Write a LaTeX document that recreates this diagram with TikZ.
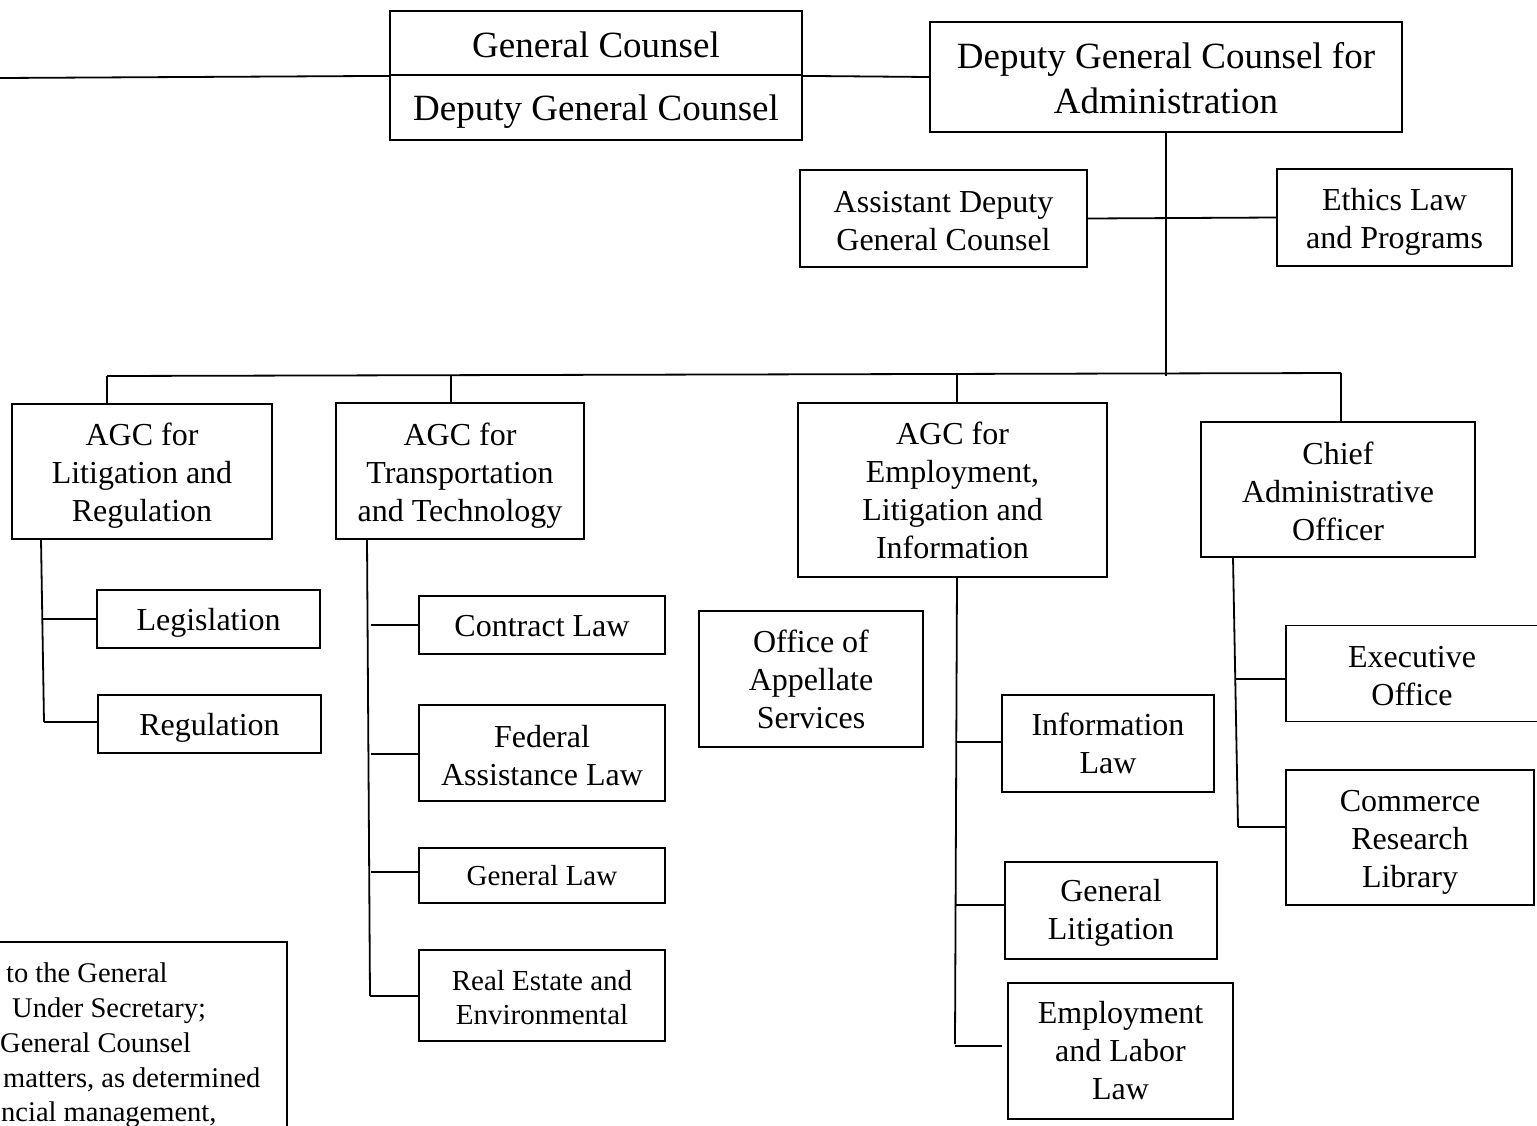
\documentclass[tikz,border=0pt]{standalone}
\usepackage{fontspec}
\setmainfont{Liberation Serif}
\usetikzlibrary{calc}
\tikzset{
  box/.style={draw, line width=1.8pt, rectangle, inner sep=0pt},
  lab/.style={inner sep=0pt, align=center, font=\fontsize{32}{38}\selectfont},
  biglab/.style={lab, font=\fontsize{37}{45}\selectfont},
  smalllab/.style={lab, font=\fontsize{29}{34}\selectfont},
  ln/.style={line width=1.8pt},
  notetext/.style={inner sep=0pt, anchor=base west, font=\fontsize{28.5}{35}\selectfont},
}
\begin{document}
\begin{tikzpicture}[x=1pt, y=-1pt]
\useasboundingbox (0,0) rectangle (1537,1125);

% top level
\node[box, minimum width=412pt, minimum height=64pt,
  label={[biglab, yshift=-2pt]center:General Counsel}] (gc1) at (596,43) {};
\node[box, minimum width=412pt, minimum height=65pt,
  label={[biglab, yshift=-4pt]center:Deputy General Counsel}] (gc2) at (596,107.5) {};
\node[box, minimum width=472pt, minimum height=110pt,
  label={[biglab, yshift=-1.5pt]center:{Deputy General Counsel for\\Administration}}] (dgca) at (1166,77) {};
\node[box, minimum width=287pt, minimum height=97pt,
  label={[lab, yshift=-2.5pt]center:{Assistant Deputy\\General Counsel}}] (adgc) at (943.5,218.5) {};
\node[box, minimum width=235pt, minimum height=97pt,
  label={[lab, yshift=-4.5pt]center:{Ethics Law\\and Programs}}] (ethics) at (1394.5,217.5) {};

% AGC level
\node[box, minimum width=260pt, minimum height=135pt,
  label={[lab, yshift=-4pt]center:{AGC for\\Litigation and\\Regulation}}] (agc1) at (142,471.5) {};
\node[box, minimum width=248pt, minimum height=136pt,
  label={[lab, yshift=-4.5pt]center:{AGC for\\Transportation\\and Technology}}] (agc2) at (460,471) {};
\node[box, minimum width=309pt, minimum height=174pt,
  label={[lab, yshift=-0.5pt]center:{AGC for\\Employment,\\Litigation and\\Information}}] (agc3) at (952.5,490) {};
\node[box, minimum width=274pt, minimum height=135pt,
  label={[lab, yshift=-2pt]center:{Chief\\Administrative\\Officer}}] (cao) at (1338,489.5) {};

% sub offices
\node[box, minimum width=223pt, minimum height=58pt,
  label={[lab, yshift=-4pt]center:Legislation}] (leg) at (208.5,619) {};
\node[box, minimum width=223pt, minimum height=58pt,
  label={[lab, yshift=-4pt]center:Regulation}] (reg) at (209.5,724) {};
\node[box, minimum width=246pt, minimum height=58pt,
  label={[lab, yshift=-1pt]center:Contract Law}] (contract) at (542,625) {};
\node[box, minimum width=246pt, minimum height=96pt,
  label={[lab, yshift=-2.5pt]center:{Federal\\Assistance Law}}] (federal) at (542,753) {};
\node[box, minimum width=246pt, minimum height=55pt,
  label={[smalllab, yshift=0pt]center:General Law}] (genlaw) at (542,875.5) {};
\node[box, minimum width=246pt, minimum height=91pt,
  label={[smalllab, yshift=-2pt]center:{Real Estate and\\Environmental}}] (realest) at (542,995.5) {};
\node[box, minimum width=224pt, minimum height=136pt,
  label={[lab, yshift=-0.5pt]center:{Office of\\Appellate\\Services}}] (oas) at (811,679) {};
\node[box, minimum width=212pt, minimum height=97pt,
  label={[lab, yshift=0pt]center:{Information\\Law}}] (infolaw) at (1108,743.5) {};
\node[box, minimum width=212pt, minimum height=97pt,
  label={[lab, yshift=-2pt]center:{General\\Litigation}}] (genlit) at (1111,910.5) {};
\node[box, minimum width=225pt, minimum height=136pt,
  label={[lab, yshift=0pt]center:{Employment\\and Labor\\Law}}] (employ) at (1120.5,1051) {};
\node[box, minimum width=252pt, minimum height=96pt,
  label={[lab, yshift=-2.5pt]center:{Executive\\Office}}] (exec) at (1412,673.5) {};
\node[box, minimum width=248pt, minimum height=135pt,
  label={[lab, yshift=-5pt]center:{Commerce\\Research\\Library}}] (commerce) at (1410,837.5) {};

% note box (partly outside the page)
\draw[ln] (-20,942) rectangle (287,1145);
\node[notetext] (n1) at (6,982) {to the General};
\node[notetext] (n2) at (12,1017) {Under Secretary;};
\node[notetext] (n3) at (0,1052) {General Counsel};
\node[notetext] (n4) at (3,1087) {matters, as determined};
\node[notetext] (n5) at (1,1121) {ncial management,};

% coordinates
\coordinate (lft) at (0,78);
\coordinate (bus) at (1166,376);
\coordinate (busL) at (107,376);
\coordinate (busR) at (1341,373);
\coordinate (d2) at (451,376);
\coordinate (d3) at (957,375);
\coordinate (t1a) at (41,539);
\coordinate (t1b) at (44,722);
\coordinate (t1m) at (43,619);
\coordinate (t2a) at (367,539);
\coordinate (t2b) at (370,996);
\coordinate (t2c) at (371,625);
\coordinate (t2d) at (371,754);
\coordinate (t2e) at (371,872);
\coordinate (t3a) at (957,577);
\coordinate (t3b) at (955,1044);
\coordinate (t3c) at (957,742);
\coordinate (t3d) at (956,905);
\coordinate (t3e) at (955,1046);
\coordinate (e3) at (1002,1046);
\coordinate (t4a) at (1233,557);
\coordinate (t4b) at (1238,827);
\coordinate (t4c) at (1235,679);

% connectors
\draw[ln] (lft) -- (gc1.south west);
\draw[ln] (gc1.south east) -- (dgca.west);
\draw[ln] (dgca.south) -- (bus);
\draw[ln] (adgc.east) -- (ethics.west);
\draw[ln] (busL) -- (busR);
\draw[ln] (busL) -- (busL |- agc1.north);
\draw[ln] (d2) -- (d2 |- agc2.north);
\draw[ln] (d3) -- (d3 |- agc3.north);
\draw[ln] (busR) -- (busR |- cao.north);

\draw[ln] (t1a) -- (t1b);
\draw[ln] (t1m) -- (t1m -| leg.west);
\draw[ln] (t1b) -- (t1b -| reg.west);

\draw[ln] (t2a) -- (t2b);
\draw[ln] (t2c) -- (t2c -| contract.west);
\draw[ln] (t2d) -- (t2d -| federal.west);
\draw[ln] (t2e) -- (t2e -| genlaw.west);
\draw[ln] (t2b) -- (t2b -| realest.west);

\draw[ln] (t3a) -- (t3b);
\draw[ln] (t3c) -- (t3c -| infolaw.west);
\draw[ln] (t3d) -- (t3d -| genlit.west);
\draw[ln] (t3e) -- (e3);

\draw[ln] (t4a) -- (t4b);
\draw[ln] (t4c) -- (t4c -| exec.west);
\draw[ln] (t4b) -- (t4b -| commerce.west);
\end{tikzpicture}
\end{document}
